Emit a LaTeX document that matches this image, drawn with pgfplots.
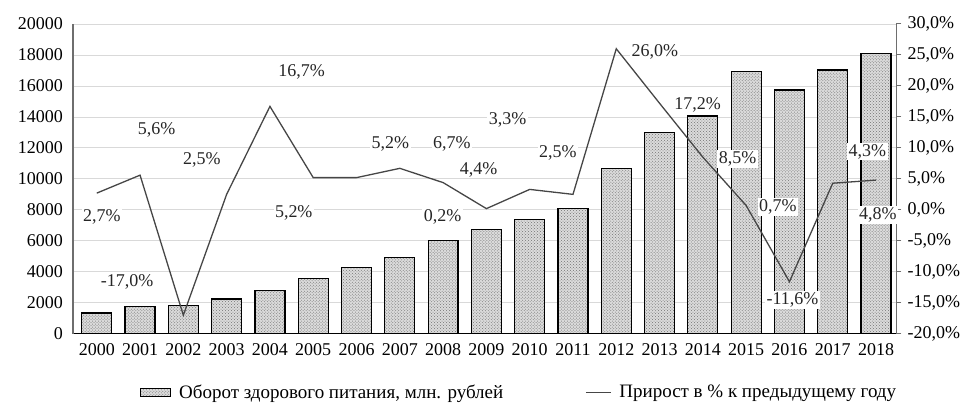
\documentclass[border=0pt]{standalone}
\usepackage{pgfplots}
\pgfplotsset{compat=1.18}
\usepackage{fontspec}
\setmainfont{Liberation Serif}
\usetikzlibrary{patterns}
\definecolor{gridc}{RGB}{217,217,217}
\definecolor{axc}{RGB}{110,110,110}
\definecolor{linec}{RGB}{70,70,70}
\pgfplotstableread{
year val
2000 1335
2001 1760
2002 1830
2003 2240
2004 2800
2005 3590
2006 4300
2007 4920
2008 6020
2009 6710
2010 7360
2011 8100
2012 10690
2013 13010
2014 14060
2015 16920
2016 15740
2017 17030
2018 18100
}\turnover
\pgfplotstableread{
year pct
2000 2.7
2001 5.6
2002 -17.0
2003 2.5
2004 16.7
2005 5.2
2006 5.2
2007 6.7
2008 4.4
2009 0.2
2010 3.3
2011 2.5
2012 26.0
2013 17.2
2014 8.5
2015 0.7
2016 -11.6
2017 4.3
2018 4.8
}\growth
\pgfplotstableread{
x y v
2000.12 -1.1 2.7
2001.38 12.9 5.6
2000.70 -11.6 -17.0
2002.43 8.1 2.5
2004.73 22.3 16.7
2004.55 -0.5 5.2
2006.78 10.6 5.2
2008.20 10.6 6.7
2008.82 6.5 4.4
2007.99 -1.1 0.2
2009.49 14.5 3.3
2010.65 9.2 2.5
2012.89 25.5 26.0
2013.88 16.9 17.2
2014.80 8.2 8.5
2015.73 0.5 0.7
2016.07 -14.5 -11.6
2017.80 9.4 4.3
2018.04 -0.8 4.8
}\labels
\tikzset{
  barsty/.style={draw=black, line width=1.2bp, fill=gray!28,
    postaction={pattern=crosshatch dots, pattern color=gray!90!black}},
}
\newcommand\fs{\fontsize{18bp}{21bp}\selectfont}
\newcommand\fl{\fontsize{19bp}{22bp}\selectfont}
\pgfplotsset{
  every axis/.append style={
    scale only axis, width=824bp, height=310bp,
    xmin=1999.45, xmax=2018.47,
    /pgf/number format/assume math mode=true,
    tick label style={font=\fs},
  },
  barleg/.style={legend image code/.code={\draw[barsty, line width=0.8bp] (0bp,-4bp) rectangle (30bp,4bp);}},
  lineleg/.style={legend image code/.code={\draw[linec, line width=1.3bp] (0bp,0bp) -- (25bp,0bp);}},
}
\begin{document}
\fs
\begin{tikzpicture}[font=\fs]
\begin{axis}[
  axis x line*=bottom, axis y line*=left,
  ymin=0, ymax=20000, ytick={0,2000,...,20000},
  scaled y ticks=false,
  yticklabel style={/pgf/number format/1000 sep={}, xshift=-4bp},
  xtick=data, xticklabel style={/pgf/number format/1000 sep={}, yshift=-4bp},
  major tick length=0pt,
  ymajorgrids, grid style={gridc, line width=0.8bp},
  x axis line style={black, line width=1.2bp},
  y axis line style={axc, line width=1.2bp},
]
\addplot[ybar, bar width=30bp, barsty] table[x=year, y=val] {\turnover};
\end{axis}
\begin{axis}[
  axis x line=none, axis y line*=right,
  ymin=-20, ymax=30, ytick={-20,-15,...,30},
  yticklabel={\pgfmathprintnumber[fixed, fixed zerofill, precision=1, use comma]{\tick}\%},
  tick align=outside, major tick length=5bp,
  y axis line style={axc, line width=1.2bp},
  ytick style={axc, line width=1bp},
  legend style={at={(0.542,-0.19)}, anchor=center, draw=none, fill=none,
    legend columns=2, font=\fl,
    /tikz/every odd column/.append style={column sep=6bp},
    /tikz/every even column/.append style={column sep=80bp}},
]
\addlegendimage{barleg}
\addlegendentry{Оборот здорового питания, млн. рублей}
\addplot[linec, line width=1.3bp, mark=none, lineleg] table[x=year, y=pct] {\growth};
\addlegendentry{Прирост в \% к предыдущему году}
\addplot[forget plot, draw=none, mark=none, point meta=explicit,
  nodes near coords={\pgfmathprintnumber[fixed, fixed zerofill, precision=1, use comma]{\pgfplotspointmeta}\%},
  every node near coord/.style={anchor=center, fill=white, inner sep=1.5bp, text=black!85, font=\fs}]
  table[x=x, y=y, meta=v] {\labels};
\end{axis}
\path ([shift={(-73bp,-71bp)}]current axis.south west) rectangle ([shift={(69bp,24bp)}]current axis.north east);
\end{tikzpicture}
\end{document}
